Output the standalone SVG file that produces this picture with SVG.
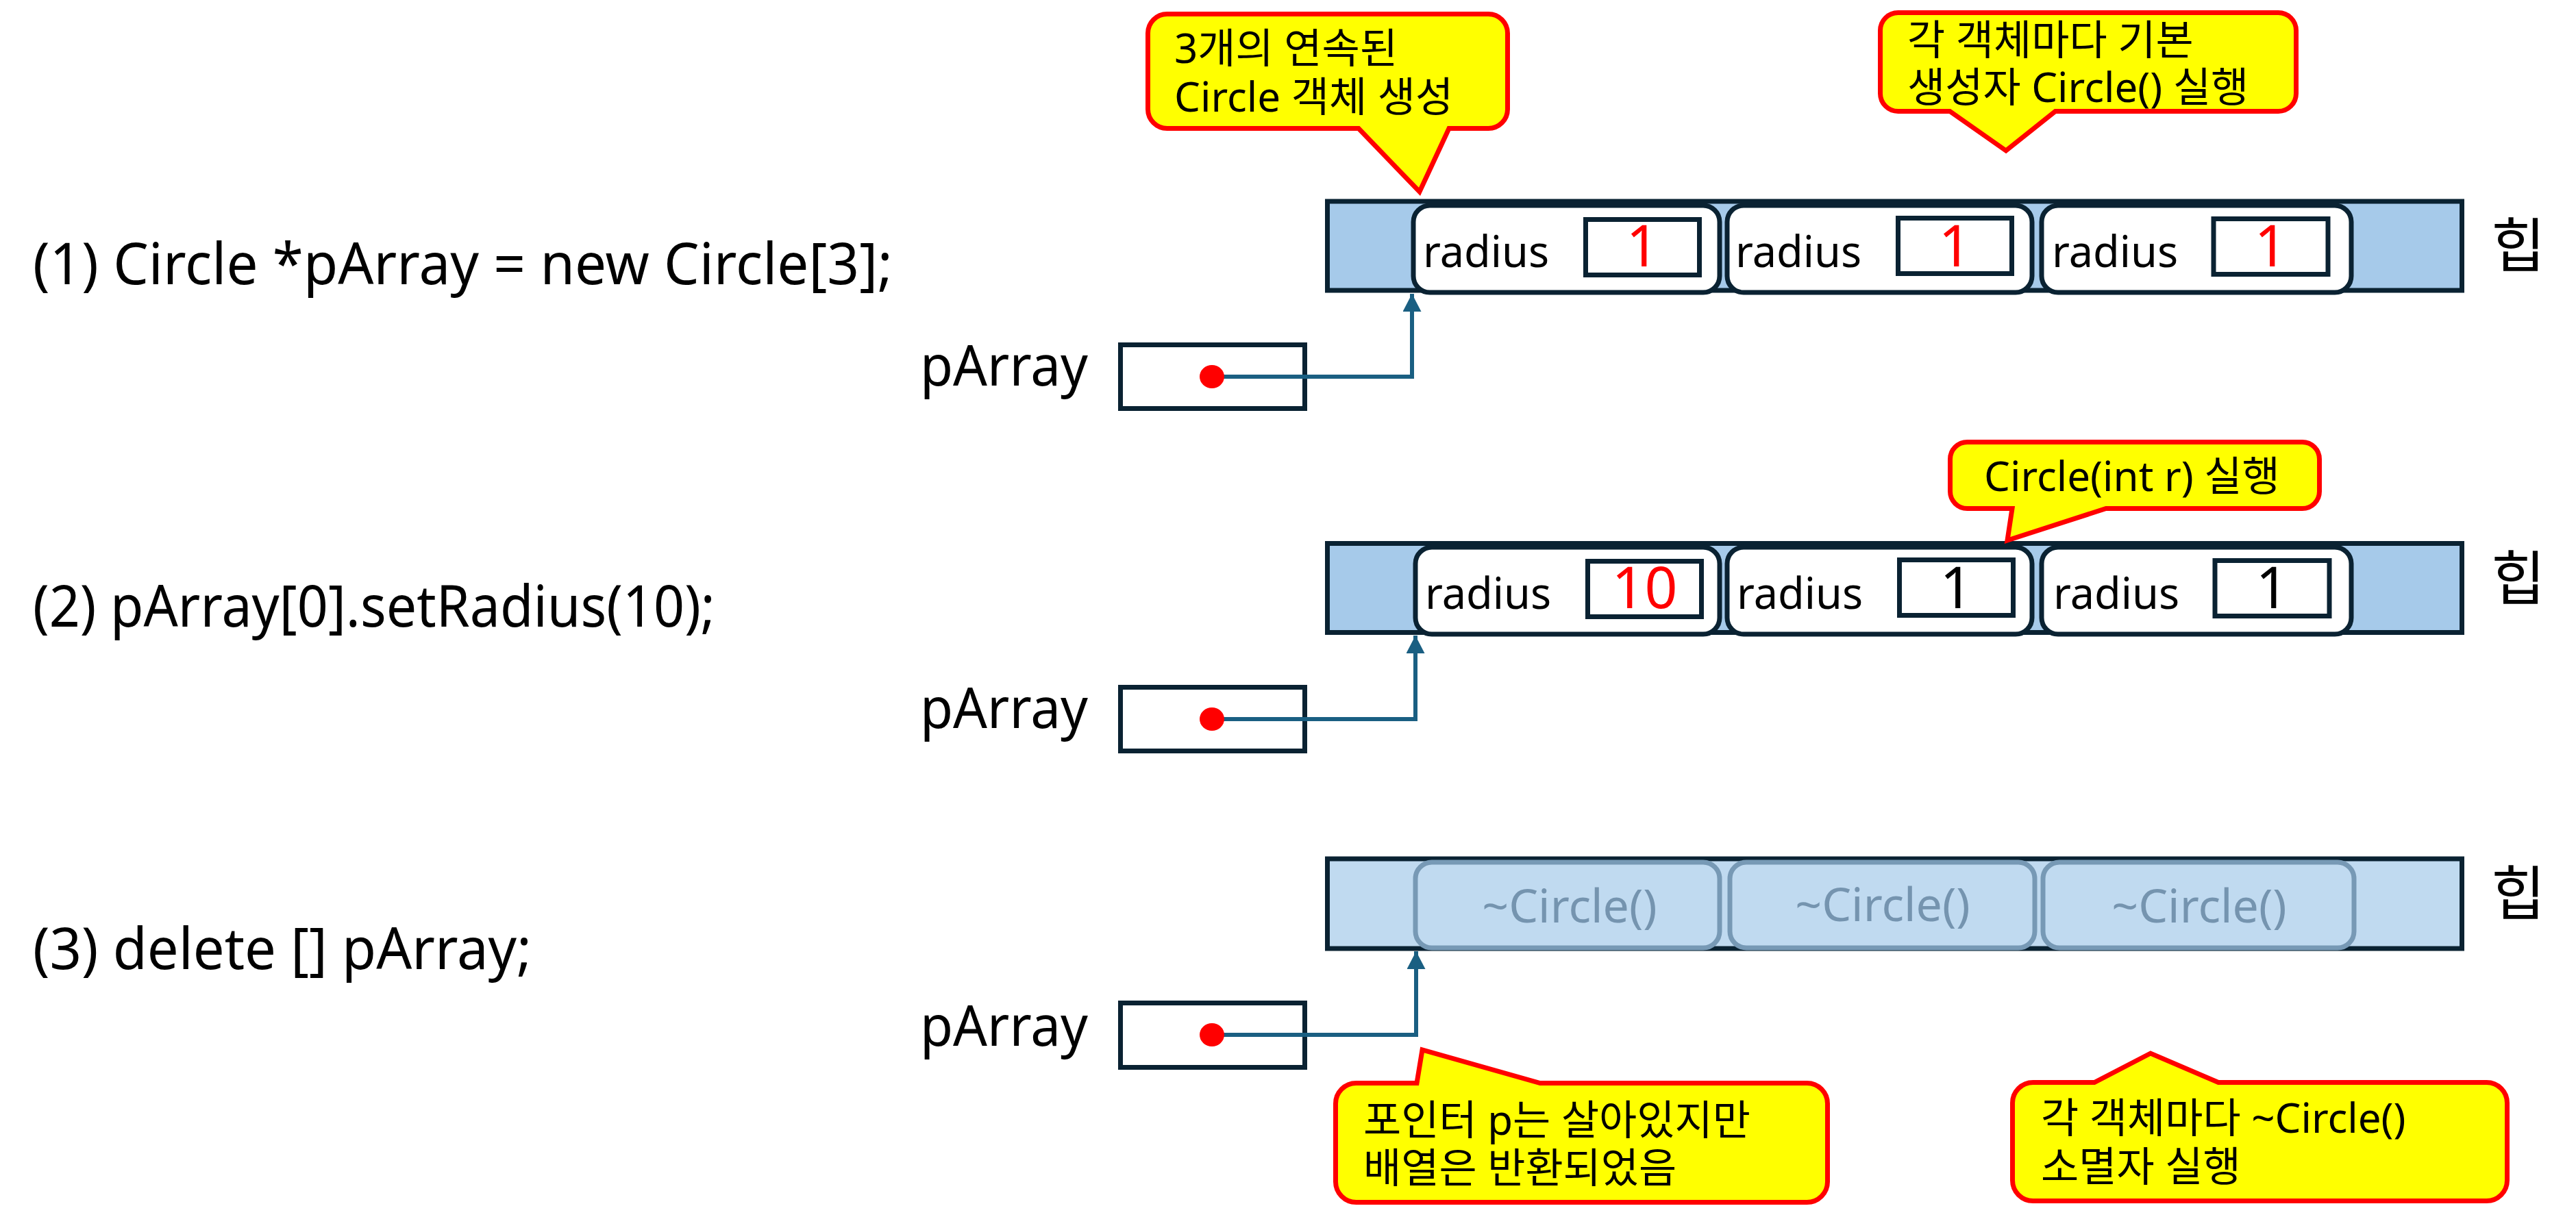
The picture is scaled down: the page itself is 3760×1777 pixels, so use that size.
<svg xmlns="http://www.w3.org/2000/svg" width="3760" height="1777" viewBox="0 0 3760 1777">
<defs>
<style>
text{font-family:"Noto Sans","Noto Sans CJK KR",sans-serif;fill:#000}
.main{font-size:84px}
.lbl{font-size:82px}
.heap{fill:#A6CAEA;stroke:#0A2232;stroke-width:7}
.heapd{fill:#C0DAF0;stroke:#0A2232;stroke-width:7}
.obj{fill:#fff;stroke:#0A2232;stroke-width:7}
.objd{fill:#C0DAF0;stroke:#7799B5;stroke-width:7}
.box{fill:#fff;stroke:#0A2232;stroke-width:7}
.rad{font-size:63px}
.val{font-size:84px;text-anchor:middle}
.red{fill:#FF0000}
.dtor{font-size:68px;fill:#7594AF;text-anchor:middle}
.call{fill:#FFFF00;stroke:#FF0000;stroke-width:7;stroke-linejoin:miter}
.ct{font-size:60px}
.heapt{font-size:86px;font-family:"Noto Sans CJK KR",sans-serif}
.conn{fill:none;stroke:#1A5F82;stroke-width:6}
.dot{fill:#FF0000}
</style>
<marker id="arr" markerUnits="userSpaceOnUse" markerWidth="28" markerHeight="28" refX="26" refY="13.5" orient="auto" viewBox="0 0 28 28">
<path d="M0,0 L26,13.5 L0,27 Z" fill="#1A5F82"/>
</marker>
</defs>
<rect width="3760" height="1777" fill="#fff"/>

<g id="code">
<text class="main" x="48" y="415" textLength="1255" lengthAdjust="spacingAndGlyphs">(1) Circle *pArray = new Circle[3];</text>
<text class="main" x="48" y="915" textLength="996" lengthAdjust="spacingAndGlyphs">(2) pArray[0].setRadius(10);</text>
<text class="main" x="48" y="1415" textLength="728" lengthAdjust="spacingAndGlyphs">(3) delete [] pArray;</text>
</g>

<!-- Row 1 -->
<g id="heap1">
<rect class="heap" x="1937.5" y="294" width="1656" height="130"/>
<text class="heapt" x="3636" y="390">힙</text>
</g>
<g id="obj1a">
<rect class="obj" x="2063" y="300" width="447" height="127" rx="24"/>
<text class="rad" x="2077" y="390">radius</text>
<rect class="box" x="2314.5" y="320.5" width="166" height="81"/>
<text class="val red" x="2397.5" y="389">1</text>
</g>
<g id="obj1b">
<rect class="obj" x="2521" y="300" width="445" height="127" rx="24"/>
<text class="rad" x="2533" y="390">radius</text>
<rect class="box" x="2770.5" y="318.5" width="166" height="81"/>
<text class="val red" x="2853.5" y="389">1</text>
</g>
<g id="obj1c">
<rect class="obj" x="2980" y="300" width="452" height="127" rx="24"/>
<text class="rad" x="2995" y="390">radius</text>
<rect class="box" x="3231" y="319.5" width="167" height="81"/>
<text class="val red" x="3314.5" y="389">1</text>
</g>
<g id="ptr1">
<text class="lbl" x="1343" y="563" textLength="245" lengthAdjust="spacingAndGlyphs">pArray</text>
<rect class="box" x="1635.5" y="503.5" width="269" height="93"/>
</g>

<!-- Row 2 -->
<g id="heap2">
<rect class="heap" x="1937.5" y="793.5" width="1656" height="130"/>
<text class="heapt" x="3636" y="876">힙</text>
</g>
<g id="obj2a">
<rect class="obj" x="2066" y="799" width="444" height="127" rx="24"/>
<text class="rad" x="2080" y="889">radius</text>
<rect class="box" x="2317.5" y="819.5" width="166" height="81"/>
<text class="val red" x="2400.5" y="888">10</text>
</g>
<g id="obj2b">
<rect class="obj" x="2521" y="799" width="445" height="127" rx="24"/>
<text class="rad" x="2535" y="889">radius</text>
<rect class="box" x="2772.5" y="817.5" width="166" height="81"/>
<text class="val" x="2855.5" y="888">1</text>
</g>
<g id="obj2c">
<rect class="obj" x="2980" y="799" width="452" height="127" rx="24"/>
<text class="rad" x="2997" y="889">radius</text>
<rect class="box" x="3233" y="818.5" width="167" height="81"/>
<text class="val" x="3316.5" y="888">1</text>
</g>
<g id="ptr2">
<text class="lbl" x="1343" y="1063" textLength="245" lengthAdjust="spacingAndGlyphs">pArray</text>
<rect class="box" x="1635.5" y="1003.5" width="269" height="93"/>
</g>

<!-- Row 3 -->
<g id="heap3">
<rect class="heapd" x="1937.5" y="1254" width="1656" height="131"/>
<text class="heapt" x="3636" y="1336">힙</text>
</g>
<g id="obj3a">
<rect class="objd" x="2066" y="1259" width="444" height="125" rx="24"/>
<text class="dtor" x="2291" y="1347">~Circle()</text>
</g>
<g id="obj3b">
<rect class="objd" x="2525" y="1259" width="445" height="125" rx="24"/>
<text class="dtor" x="2748" y="1345">~Circle()</text>
</g>
<g id="obj3c">
<rect class="objd" x="2982" y="1259" width="454" height="125" rx="24"/>
<text class="dtor" x="3210" y="1347">~Circle()</text>
</g>
<g id="ptr3">
<text class="lbl" x="1343" y="1527" textLength="245" lengthAdjust="spacingAndGlyphs">pArray</text>
<rect class="box" x="1635.5" y="1464.5" width="269" height="94"/>
</g>

<g id="connectors">
<path class="conn" d="M1769,550 H2061 V429" marker-end="url(#arr)"/>
<path class="conn" d="M1769,1050 H2066 V928" marker-end="url(#arr)"/>
<path class="conn" d="M1769,1511 H2067 V1389" marker-end="url(#arr)"/>
<ellipse class="dot" cx="1769" cy="550" rx="18" ry="17"/>
<ellipse class="dot" cx="1769" cy="1050" rx="18" ry="17"/>
<ellipse class="dot" cx="1769" cy="1511" rx="18" ry="17"/>
</g>

<g id="callout1">
<path class="call" d="M1703.5,20.5 H2172.5 A28,28 0 0 1 2200.5,48.5 V159.5 A28,28 0 0 1 2172.5,187.5 H2115 L2072,280 L1983,187.5 H1703.5 A28,28 0 0 1 1675.5,159.5 V48.5 A28,28 0 0 1 1703.5,20.5 Z"/>
<text class="ct"><tspan x="1714" y="92">3개의 연속된</tspan><tspan x="1714" y="163">Circle 객체 생성</tspan></text>
</g>
<g id="callout2">
<path class="call" d="M2770.5,18.5 H3325.5 A26,26 0 0 1 3351.5,44.5 V136.5 A26,26 0 0 1 3325.5,162.5 H3000 L2928,220 L2846,162.5 H2770.5 A26,26 0 0 1 2744.5,136.5 V44.5 A26,26 0 0 1 2770.5,18.5 Z"/>
<text class="ct"><tspan x="2784" y="80">각 객체마다 기본</tspan><tspan x="2784" y="149">생성자 Circle() 실행</tspan></text>
</g>
<g id="callout3">
<path class="call" d="M2871.5,645.5 H3360.5 A25,25 0 0 1 3385.5,670.5 V717.5 A25,25 0 0 1 3360.5,742.5 H3074 L2930,789 L2937,742.5 H2871.5 A25,25 0 0 1 2846.5,717.5 V670.5 A25,25 0 0 1 2871.5,645.5 Z"/>
<text class="ct" x="2896" y="717">Circle(int r) 실행</text>
</g>
<g id="callout4">
<path class="call" d="M1979.5,1581.5 H2068 L2076,1533 L2248,1581.5 H2637.5 A30,30 0 0 1 2667.5,1611.5 V1725.5 A30,30 0 0 1 2637.5,1755.5 H1979.5 A30,30 0 0 1 1949.5,1725.5 V1611.5 A30,30 0 0 1 1979.5,1581.5 Z"/>
<text class="ct"><tspan x="1990" y="1657">포인터 p는 살아있지만</tspan><tspan x="1990" y="1727">배열은 반환되었음</tspan></text>
</g>
<g id="callout5">
<path class="call" d="M2967.5,1580.5 H3057 L3139,1538 L3238,1580.5 H3629.5 A30,30 0 0 1 3659.5,1610.5 V1723.5 A30,30 0 0 1 3629.5,1753.5 H2967.5 A30,30 0 0 1 2937.5,1723.5 V1610.5 A30,30 0 0 1 2967.5,1580.5 Z"/>
<text class="ct"><tspan x="2979" y="1654">각 객체마다 ~Circle()</tspan><tspan x="2979" y="1725">소멸자 실행</tspan></text>
</g>
</svg>
